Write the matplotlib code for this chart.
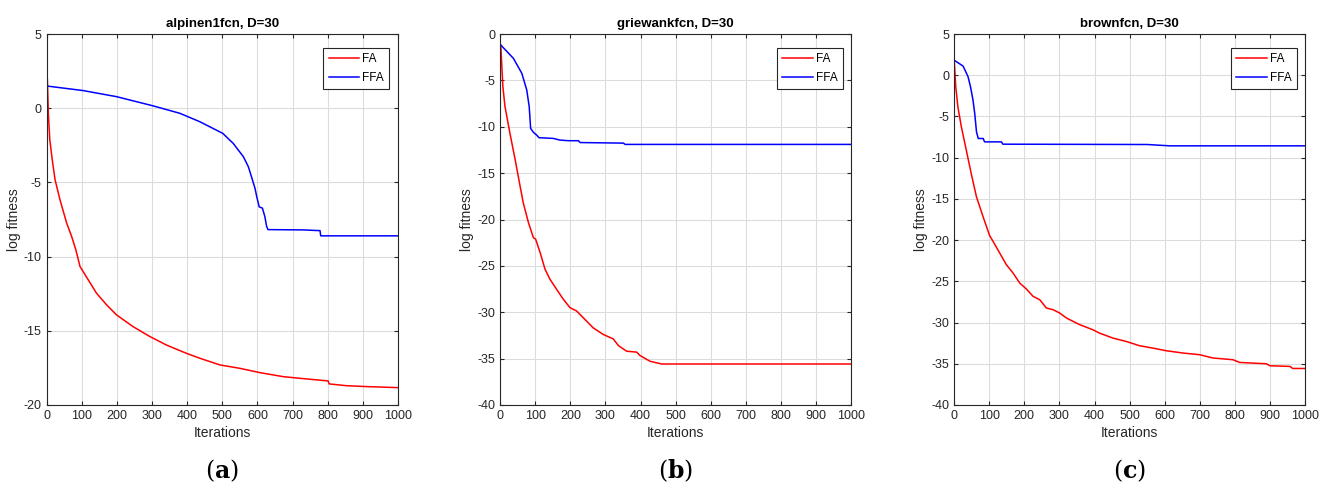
import matplotlib
matplotlib.use("Agg")
import matplotlib.pyplot as plt

plt.rcParams['font.family'] = ['Liberation Sans Narrow', 'Liberation Sans', 'DejaVu Sans']
plt.rcParams['axes.unicode_minus'] = False
plt.rcParams['mathtext.fontset'] = 'dejavuserif'

# (a) alpinen1fcn
a_fa_x = [0, 2, 5, 9, 16, 24, 38, 57, 71, 83, 95, 142, 171, 199, 246, 294, 341, 398, 436,
          493, 550, 607, 673, 720, 801, 804, 853, 910, 1000]
a_fa_y = [2.0, 1.97, -0.44, -2.13, -3.48, -4.82, -6.17, -7.74, -8.63, -9.53, -10.67, -12.47,
          -13.26, -13.93, -14.72, -15.39, -15.96, -16.52, -16.85, -17.3, -17.53, -17.82, -18.09,
          -18.2, -18.38, -18.58, -18.7, -18.76, -18.83]
a_ffa_x = [0, 104, 199, 303, 379, 436, 501, 531, 560, 574, 583, 593, 598, 605, 614, 621, 626,
           630, 730, 778, 780, 1000]
a_ffa_y = [1.5, 1.19, 0.78, 0.16, -0.34, -0.91, -1.69, -2.37, -3.27, -3.94, -4.62, -5.4, -5.97,
           -6.65, -6.73, -7.3, -7.96, -8.18, -8.2, -8.25, -8.6, -8.6]

# (b) griewankfcn
b_fa_x = [0, 2, 8, 14, 28, 43, 57, 66, 81, 95, 101, 114, 128, 142, 161, 180, 199, 218, 237,
          265, 294, 322, 337, 360, 389, 398, 427, 460, 1000]
b_fa_y = [-1.1, -1.18, -5.66, -7.81, -10.68, -13.55, -16.4, -18.2, -20.36, -21.97, -22.1,
          -23.56, -25.36, -26.44, -27.53, -28.6, -29.5, -29.87, -30.6, -31.68, -32.4, -32.87,
          -33.6, -34.2, -34.3, -34.66, -35.29, -35.58, -35.58]
b_ffa_x = [0, 2, 38, 62, 76, 83, 87, 95, 104, 111, 151, 170, 194, 223, 228, 351, 356, 1000]
b_ffa_y = [-1.1, -1.18, -2.62, -4.24, -6.04, -7.84, -10.17, -10.6, -10.89, -11.18, -11.25,
           -11.43, -11.5, -11.5, -11.7, -11.76, -11.9, -11.9]

# (c) brownfcn
c_fa_x = [0, 5, 11, 21, 35, 49, 64, 83, 101, 111, 130, 149, 168, 187, 206, 225, 244, 263, 282,
          301, 320, 358, 395, 414, 452, 490, 528, 566, 604, 652, 699, 737, 794, 813, 889, 899,
          956, 964, 1000]
c_fa_y = [2.25, -1.4, -3.83, -6.26, -9.09, -11.92, -14.76, -17.19, -19.41, -20.14, -21.56,
          -22.98, -23.99, -25.2, -25.93, -26.82, -27.23, -28.24, -28.44, -28.85, -29.45, -30.26,
          -30.87, -31.28, -31.88, -32.29, -32.81, -33.1, -33.42, -33.7, -33.9, -34.3, -34.51,
          -34.84, -35.0, -35.24, -35.32, -35.57, -35.57]
c_ffa_x = [0, 26, 40, 47, 54, 59, 64, 69, 83, 87, 135, 139, 550, 614, 1000]
c_ffa_y = [1.84, 1.11, -0.18, -1.4, -3.0, -4.64, -6.86, -7.67, -7.67, -8.08, -8.08, -8.36,
           -8.4, -8.56, -8.56]

panels = [
    ("alpinen1fcn, D=30", a_fa_x, a_fa_y, a_ffa_x, a_ffa_y, (-20, 5), "a"),
    ("griewankfcn, D=30", b_fa_x, b_fa_y, b_ffa_x, b_ffa_y, (-40, 0), "b"),
    ("brownfcn, D=30", c_fa_x, c_fa_y, c_ffa_x, c_ffa_y, (-40, 5), "c"),
]
lefts = [0.0352, 0.3774, 0.7200]

fig = plt.figure(figsize=(13.25, 4.9), dpi=100)
for (title, fx, fy, gx, gy, ylim, tag), left in zip(panels, lefts):
    ax = fig.add_axes([left, 0.1735, 0.2652, 0.757])
    ax.plot(fx, fy, color='#ff0000', lw=1.1, label='FA')
    ax.plot(gx, gy, color='#0000ff', lw=1.1, label='FFA')
    ax.set_xlim(0, 1000)
    ax.set_ylim(*ylim)
    ax.set_xticks(range(0, 1001, 100))
    ax.set_yticks(range(ylim[0], ylim[1] + 1, 5))
    ax.grid(True, color='#dcdcdc', lw=0.8)
    ax.tick_params(direction='in', top=True, right=True, labelsize=9, length=3,
                   colors='#262626', labelcolor='#262626')
    for s in ax.spines.values():
        s.set_color('#262626')
        s.set_linewidth(0.8)
    ax.set_title(title, fontsize=9.5, fontweight='bold', pad=5)
    ax.set_xlabel('Iterations', fontsize=10, color='#262626', labelpad=3)
    ax.set_ylabel('log fitness', fontsize=10, color='#262626', labelpad=2)
    leg = ax.legend(loc='upper right', bbox_to_anchor=(0.975, 0.962), fontsize=8.5,
                    fancybox=False, edgecolor='#262626', framealpha=1,
                    handlelength=2.6, borderpad=0.45, labelspacing=0.55, handletextpad=0.25,
                    borderaxespad=0.0)
    leg.get_frame().set_linewidth(0.8)
    fig.text(left + 0.1326, 0.04, r'($\mathbf{' + tag + '}$)', ha='center', va='center',
             fontsize=17, family=['DejaVu Serif'])

fig.savefig('out.png', dpi=100)
